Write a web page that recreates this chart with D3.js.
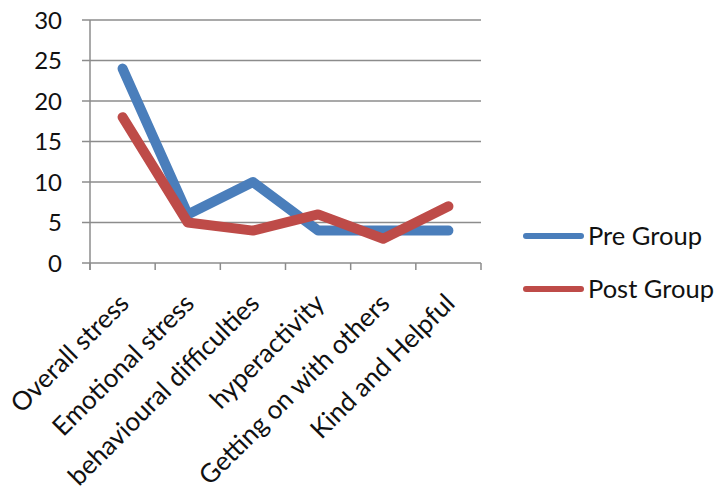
<!DOCTYPE html>
<html>
<head>
<meta charset="utf-8">
<script src="https://cdn.jsdelivr.net/npm/d3@7"></script>
<style>
  html, body { margin: 0; padding: 0; background: #fff; }
  svg { display: block; font-family: Lato, "Open Sans", sans-serif; }
</style>
</head>
<body>
<svg id="chart" width="716" height="495"></svg>
<script>
const categories = ["Overall stress", "Emotional stress", "behavioural difficulties",
                    "hyperactivity", "Getting on with others", "Kind and Helpful"];
const preGroup  = [24, 6, 10, 4, 4, 4];
const postGroup = [18, 5, 4, 6, 3, 7];
const yTicks = [0, 5, 10, 15, 20, 25, 30];
const seriesNames = ["Pre Group", "Post Group"];
const seriesColors = ["#4a7ebb", "#be4b48"];

const svg = d3.select("#chart");
const plot = { left: 90, right: 481, top: 20, bottom: 263 };

const x = d3.scaleBand().domain(categories).range([plot.left, plot.right]);
const y = d3.scaleLinear().domain([0, 30]).range([plot.bottom, plot.top]);

// horizontal gridlines
svg.append("g")
  .selectAll("line")
  .data(yTicks)
  .join("line")
  .attr("x1", plot.left - 8).attr("x2", plot.right)
  .attr("y1", d => y(d)).attr("y2", d => y(d))
  .attr("stroke", "#8c8c8c").attr("stroke-width", 1.5);

// y axis line
svg.append("line")
  .attr("x1", plot.left).attr("x2", plot.left)
  .attr("y1", plot.top).attr("y2", plot.bottom + 7)
  .attr("stroke", "#8c8c8c").attr("stroke-width", 1.5);

// y tick labels
svg.append("g")
  .selectAll("text")
  .data(yTicks)
  .join("text")
  .attr("x", 62).attr("y", d => y(d))
  .attr("dy", "0.36em")
  .attr("text-anchor", "end")
  .attr("font-size", 24)
  .attr("fill", "#111")
  .text(d => d);

// x tick marks at category boundaries
const bounds = categories.map(c => x(c)).concat([plot.right]);
svg.append("g")
  .selectAll("line")
  .data(bounds)
  .join("line")
  .attr("x1", d => d).attr("x2", d => d)
  .attr("y1", plot.bottom).attr("y2", plot.bottom + 7)
  .attr("stroke", "#8c8c8c").attr("stroke-width", 1.5);

// rotated category labels
svg.append("g")
  .selectAll("text")
  .data(categories)
  .join("text")
  .attr("transform", d => `translate(${x(d) + x.bandwidth() / 2 + 8},${plot.bottom + 42}) rotate(-45)`)
  .attr("text-anchor", "end")
  .attr("font-size", 26)
  .attr("fill", "#111")
  .text(d => d);

// series lines
const line = d3.line()
  .x((d, i) => x(categories[i]) + x.bandwidth() / 2)
  .y(d => y(d));

[preGroup, postGroup].forEach((vals, k) => {
  svg.append("path")
    .datum(vals)
    .attr("d", line)
    .attr("fill", "none")
    .attr("stroke", seriesColors[k])
    .attr("stroke-width", 10)
    .attr("stroke-linejoin", "round")
    .attr("stroke-linecap", "round");
});

// legend
const legend = svg.append("g");
seriesNames.forEach((name, k) => {
  const ly = 236 + k * 53;
  legend.append("line")
    .attr("x1", 526).attr("x2", 581)
    .attr("y1", ly).attr("y2", ly)
    .attr("stroke", seriesColors[k])
    .attr("stroke-width", 6)
    .attr("stroke-linecap", "round");
  legend.append("text")
    .attr("x", 588).attr("y", ly)
    .attr("dy", "0.36em")
    .attr("font-size", 25.5)
    .attr("fill", "#111")
    .text(name);
});
</script>
</body>
</html>
